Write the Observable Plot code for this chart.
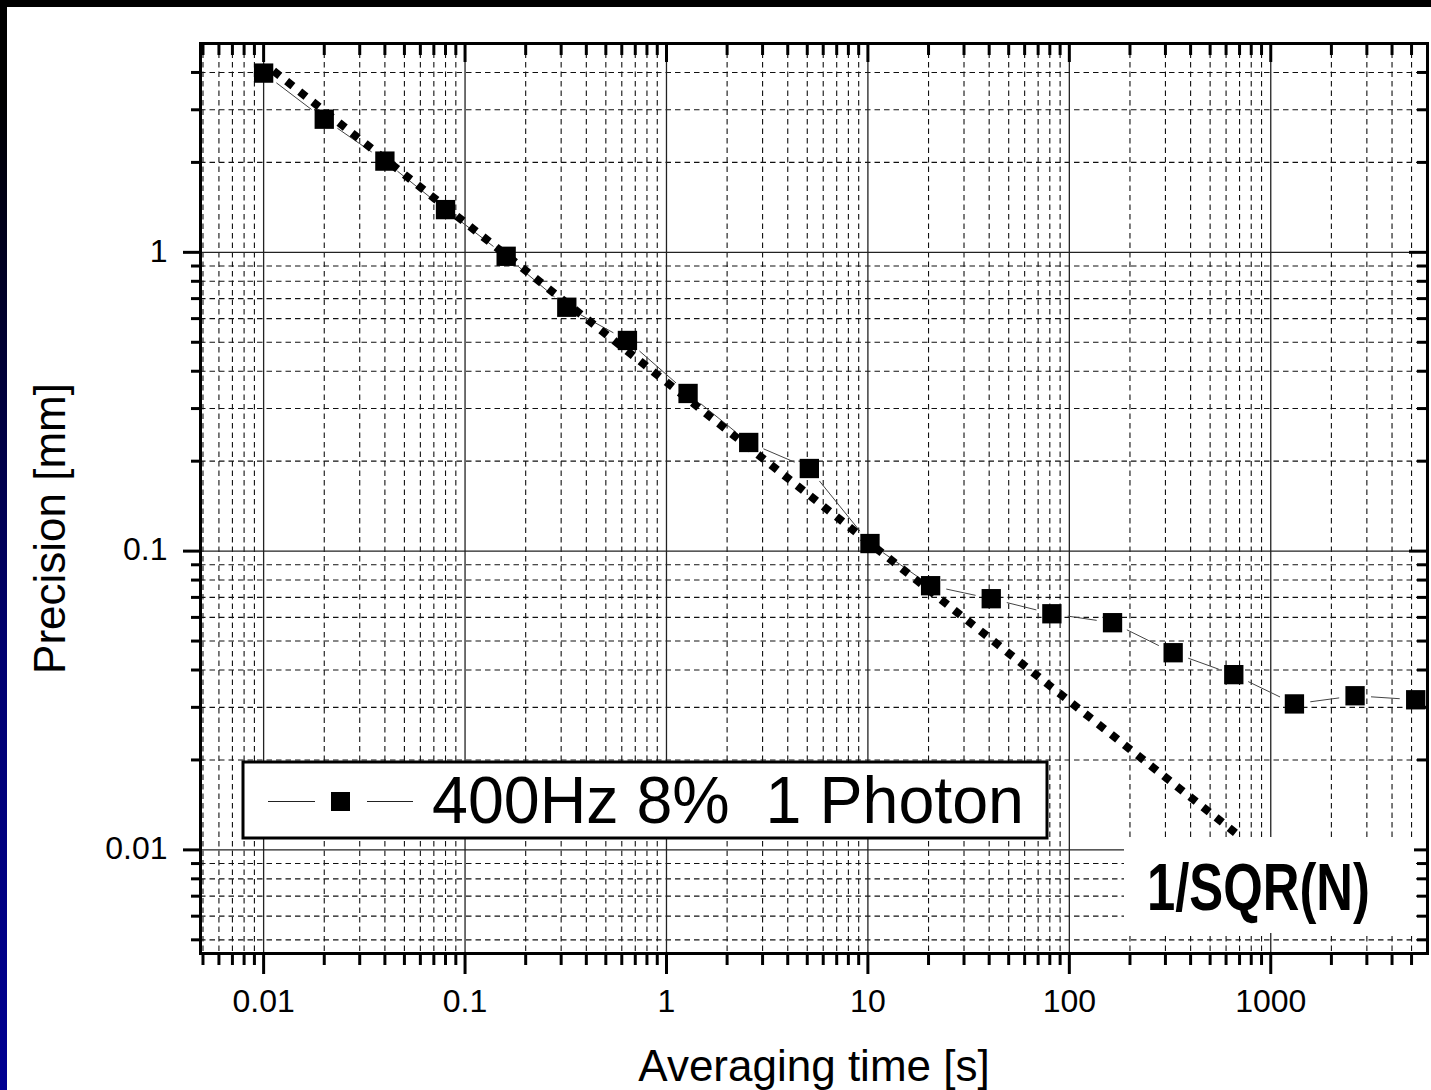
<!DOCTYPE html>
<html><head><meta charset="utf-8">
<script src="https://cdn.jsdelivr.net/npm/d3@7"></script>
<script src="https://cdn.jsdelivr.net/npm/@observablehq/plot@0.6"></script>
<style>
html,body{margin:0;padding:0;background:#fff;width:1431px;height:1090px;overflow:hidden;}
#chart{position:absolute;left:0;top:0;}
#topbar{position:absolute;left:0;top:0;width:1431px;height:7px;background:#000;}
#leftbar{position:absolute;left:0;top:0;width:7px;height:1090px;background:linear-gradient(to bottom,#000 0%,#000 9%,#00002a 28%,#000070 60%,#000092 100%);}
</style></head><body>
<div id="chart"></div>
<div id="topbar"></div><div id="leftbar"></div>
<script>
// ---- data ----
const averagingTime = [0.01,0.02,0.04,0.08,0.16,0.32,0.64,1.28,2.56,5.12,10.24,20.48,40.96,81.92,163.84,327.68,655.36,1310.72,2621.44,5242.88];
const precision     = [3.98,2.79,2.02,1.39,0.97,0.655,0.507,0.337,0.231,0.189,0.106,0.0766,0.0693,0.0617,0.0576,0.0457,0.0386,0.0308,0.0328,0.0318];
const sqrtLineTime      = [0.0112, 680];
const sqrtLinePrecision = [4.05, 0.0113];
const xTickValues = [0.01,0.1,1,10,100,1000];
const xTickLabels = ["0.01","0.1","1","10","100","1000"];
const yTickValues = [0.01,0.1,1];
const yTickLabels = ["0.01","0.1","1"];
const xTitle = "Averaging time [s]";
const yTitle = "Precision [mm]";
const legendLabel = "400Hz 8%  1 Photon";
const fitLabel = "1/SQR(N)";
const xDomain = [0.00486, 6000];
const yDomain = [0.0045, 5];

// ---- layout ----
const W = 1431, H = 1090, mL = 200, mT = 43, mR = 4, mB = 137;
const innerW = W - mL - mR, innerH = H - mT - mB;
const FONT = "'Liberation Sans', Arial, Helvetica, sans-serif";

function minorTicks(lo, hi) {
  const out = [];
  for (let e = -4; e <= 4; e++) for (let k = 2; k <= 9; k++) {
    const v = +(k * Math.pow(10, e)).toPrecision(6);
    if (v > lo * 1.0001 && v < hi * 0.9999) out.push(v);
  }
  return out;
}
const xMinor = minorTicks(xDomain[0], xDomain[1]);
const yMinor = minorTicks(yDomain[0], yDomain[1]);

const data = averagingTime.map((t, i) => ({t, p: precision[i]}));
const sqrtData = sqrtLineTime.map((t, i) => ({t, p: sqrtLinePrecision[i]}));

// connecting line segments with a gap around each symbol (Origin style)
const sx = Plot.scale({x: {type: "log", domain: xDomain, range: [mL, W - mR]}});
const sy = Plot.scale({y: {type: "log", domain: yDomain, range: [H - mB, mT]}});
const segs = [];
const gap = 16;
for (let i = 0; i < data.length - 1; i++) {
  const x1 = sx.apply(data[i].t), y1 = sy.apply(data[i].p);
  const x2 = sx.apply(data[i+1].t), y2 = sy.apply(data[i+1].p);
  const L = Math.hypot(x2 - x1, y2 - y1);
  if (L > 2 * gap + 2) {
    const ux = (x2 - x1) / L, uy = (y2 - y1) / L;
    segs.push({
      x1: sx.invert(x1 + ux * gap), y1: sy.invert(y1 + uy * gap),
      x2: sx.invert(x2 - ux * gap), y2: sy.invert(y2 - uy * gap)
    });
  }
}

const tickStyle = {stroke: "#000", strokeWidth: 3};
const chart = Plot.plot({
  width: W, height: H,
  marginLeft: mL, marginTop: mT, marginRight: mR, marginBottom: mB,
  style: {fontFamily: FONT, background: "#fff", color: "#000"},
  x: {type: "log", domain: xDomain, axis: null},
  y: {type: "log", domain: yDomain, axis: null},
  marks: [
    // grid
    Plot.ruleX(xMinor, {stroke: "#111", strokeWidth: 1.1, strokeDasharray: "5.5,4"}),
    Plot.ruleY(yMinor, {stroke: "#111", strokeWidth: 1.1, strokeDasharray: "5.5,4"}),
    Plot.ruleX(xTickValues, {stroke: "#222", strokeWidth: 1.3}),
    Plot.ruleY(yTickValues, {stroke: "#222", strokeWidth: 1.3}),
    // data
    Plot.link(segs, {x1: "x1", y1: "y1", x2: "x2", y2: "y2", stroke: "#444", strokeWidth: 1}),
    Plot.line(sqrtData, {x: "t", y: "p", stroke: "#000", strokeWidth: 8, strokeDasharray: "8,8.7", strokeLinecap: "butt"}),
    Plot.dot(data, {x: "t", y: "p", symbol: "square", r: 10.9, fill: "#000", stroke: null}),
    // ticks: bottom outward, top inward, left outward, right inward
    Plot.ruleX(xMinor, {...tickStyle, insetTop: innerH, insetBottom: -12}),
    Plot.ruleX(xTickValues, {...tickStyle, insetTop: innerH, insetBottom: -21}),
    Plot.ruleX(xMinor, {...tickStyle, insetBottom: innerH - 12}),
    Plot.ruleX(xTickValues, {...tickStyle, insetBottom: innerH - 19}),
    Plot.ruleY(yMinor, {...tickStyle, insetLeft: -9, insetRight: innerW}),
    Plot.ruleY(yTickValues, {...tickStyle, insetLeft: -17, insetRight: innerW}),
    Plot.ruleY(yMinor, {...tickStyle, insetLeft: innerW - 10}),
    Plot.ruleY(yTickValues, {...tickStyle, insetLeft: innerW - 18}),
    Plot.frame({stroke: "#000", strokeWidth: 3}),
    // tick labels
    Plot.text(xTickLabels, {x: (d, i) => xTickValues[i], text: d => d, frameAnchor: "bottom", dy: 48, textAnchor: "middle", lineAnchor: "middle", fontSize: 32, fill: "#000"}),
    Plot.text(yTickLabels, {y: (d, i) => yTickValues[i], text: d => d, frameAnchor: "left", dx: -33, dy: -1, textAnchor: "end", lineAnchor: "middle", fontSize: 32, fill: "#000"}),
    // axis titles
    Plot.text([xTitle], {text: d => d, frameAnchor: "bottom", dy: 113, textAnchor: "middle", lineAnchor: "middle", fontSize: 44, fill: "#000"}),
    Plot.text([yTitle], {text: d => d, frameAnchor: "left", dx: -150, dy: 30, rotate: -90, textAnchor: "middle", lineAnchor: "middle", fontSize: 44, fill: "#000"})
  ]
});
document.getElementById("chart").appendChild(chart);

// ---- legend & annotation ----
const svg = d3.select(chart);
const lg = svg.append("g").attr("text-anchor", "start");
lg.append("rect").attr("x", 243).attr("y", 762).attr("width", 804).attr("height", 76)
  .attr("fill", "#fff").attr("stroke", "#000").attr("stroke-width", 3);
lg.append("line").attr("x1", 268).attr("x2", 315).attr("y1", 801.5).attr("y2", 801.5).attr("stroke", "#222").attr("stroke-width", 1.2);
lg.append("rect").attr("x", 331).attr("y", 792).attr("width", 19).attr("height", 19).attr("fill", "#000");
lg.append("line").attr("x1", 367).attr("x2", 413).attr("y1", 801.5).attr("y2", 801.5).attr("stroke", "#222").attr("stroke-width", 1.2);
lg.append("text").attr("x", 432).attr("y", 823).attr("font-size", 66).attr("font-family", FONT)
  .attr("text-anchor", "start")
  .attr("fill", "#000").attr("xml:space", "preserve").style("white-space", "pre")
  .attr("textLength", 592).attr("lengthAdjust", "spacingAndGlyphs").text(legendLabel);

const fg = svg.append("g").attr("text-anchor", "start");
fg.append("rect").attr("x", 1124).attr("y", 837).attr("width", 290).attr("height", 96).attr("fill", "#fff");
const fitText = fg.append("text").attr("x", 0).attr("y", 0).attr("font-size", 66).attr("font-weight", "bold")
  .attr("text-anchor", "start").attr("font-family", FONT).attr("fill", "#000").text(fitLabel);
const natW = fitText.node().getComputedTextLength() || 290;
fitText.attr("transform", `translate(1147,910) scale(${223 / natW},1)`);
</script>
</body></html>
